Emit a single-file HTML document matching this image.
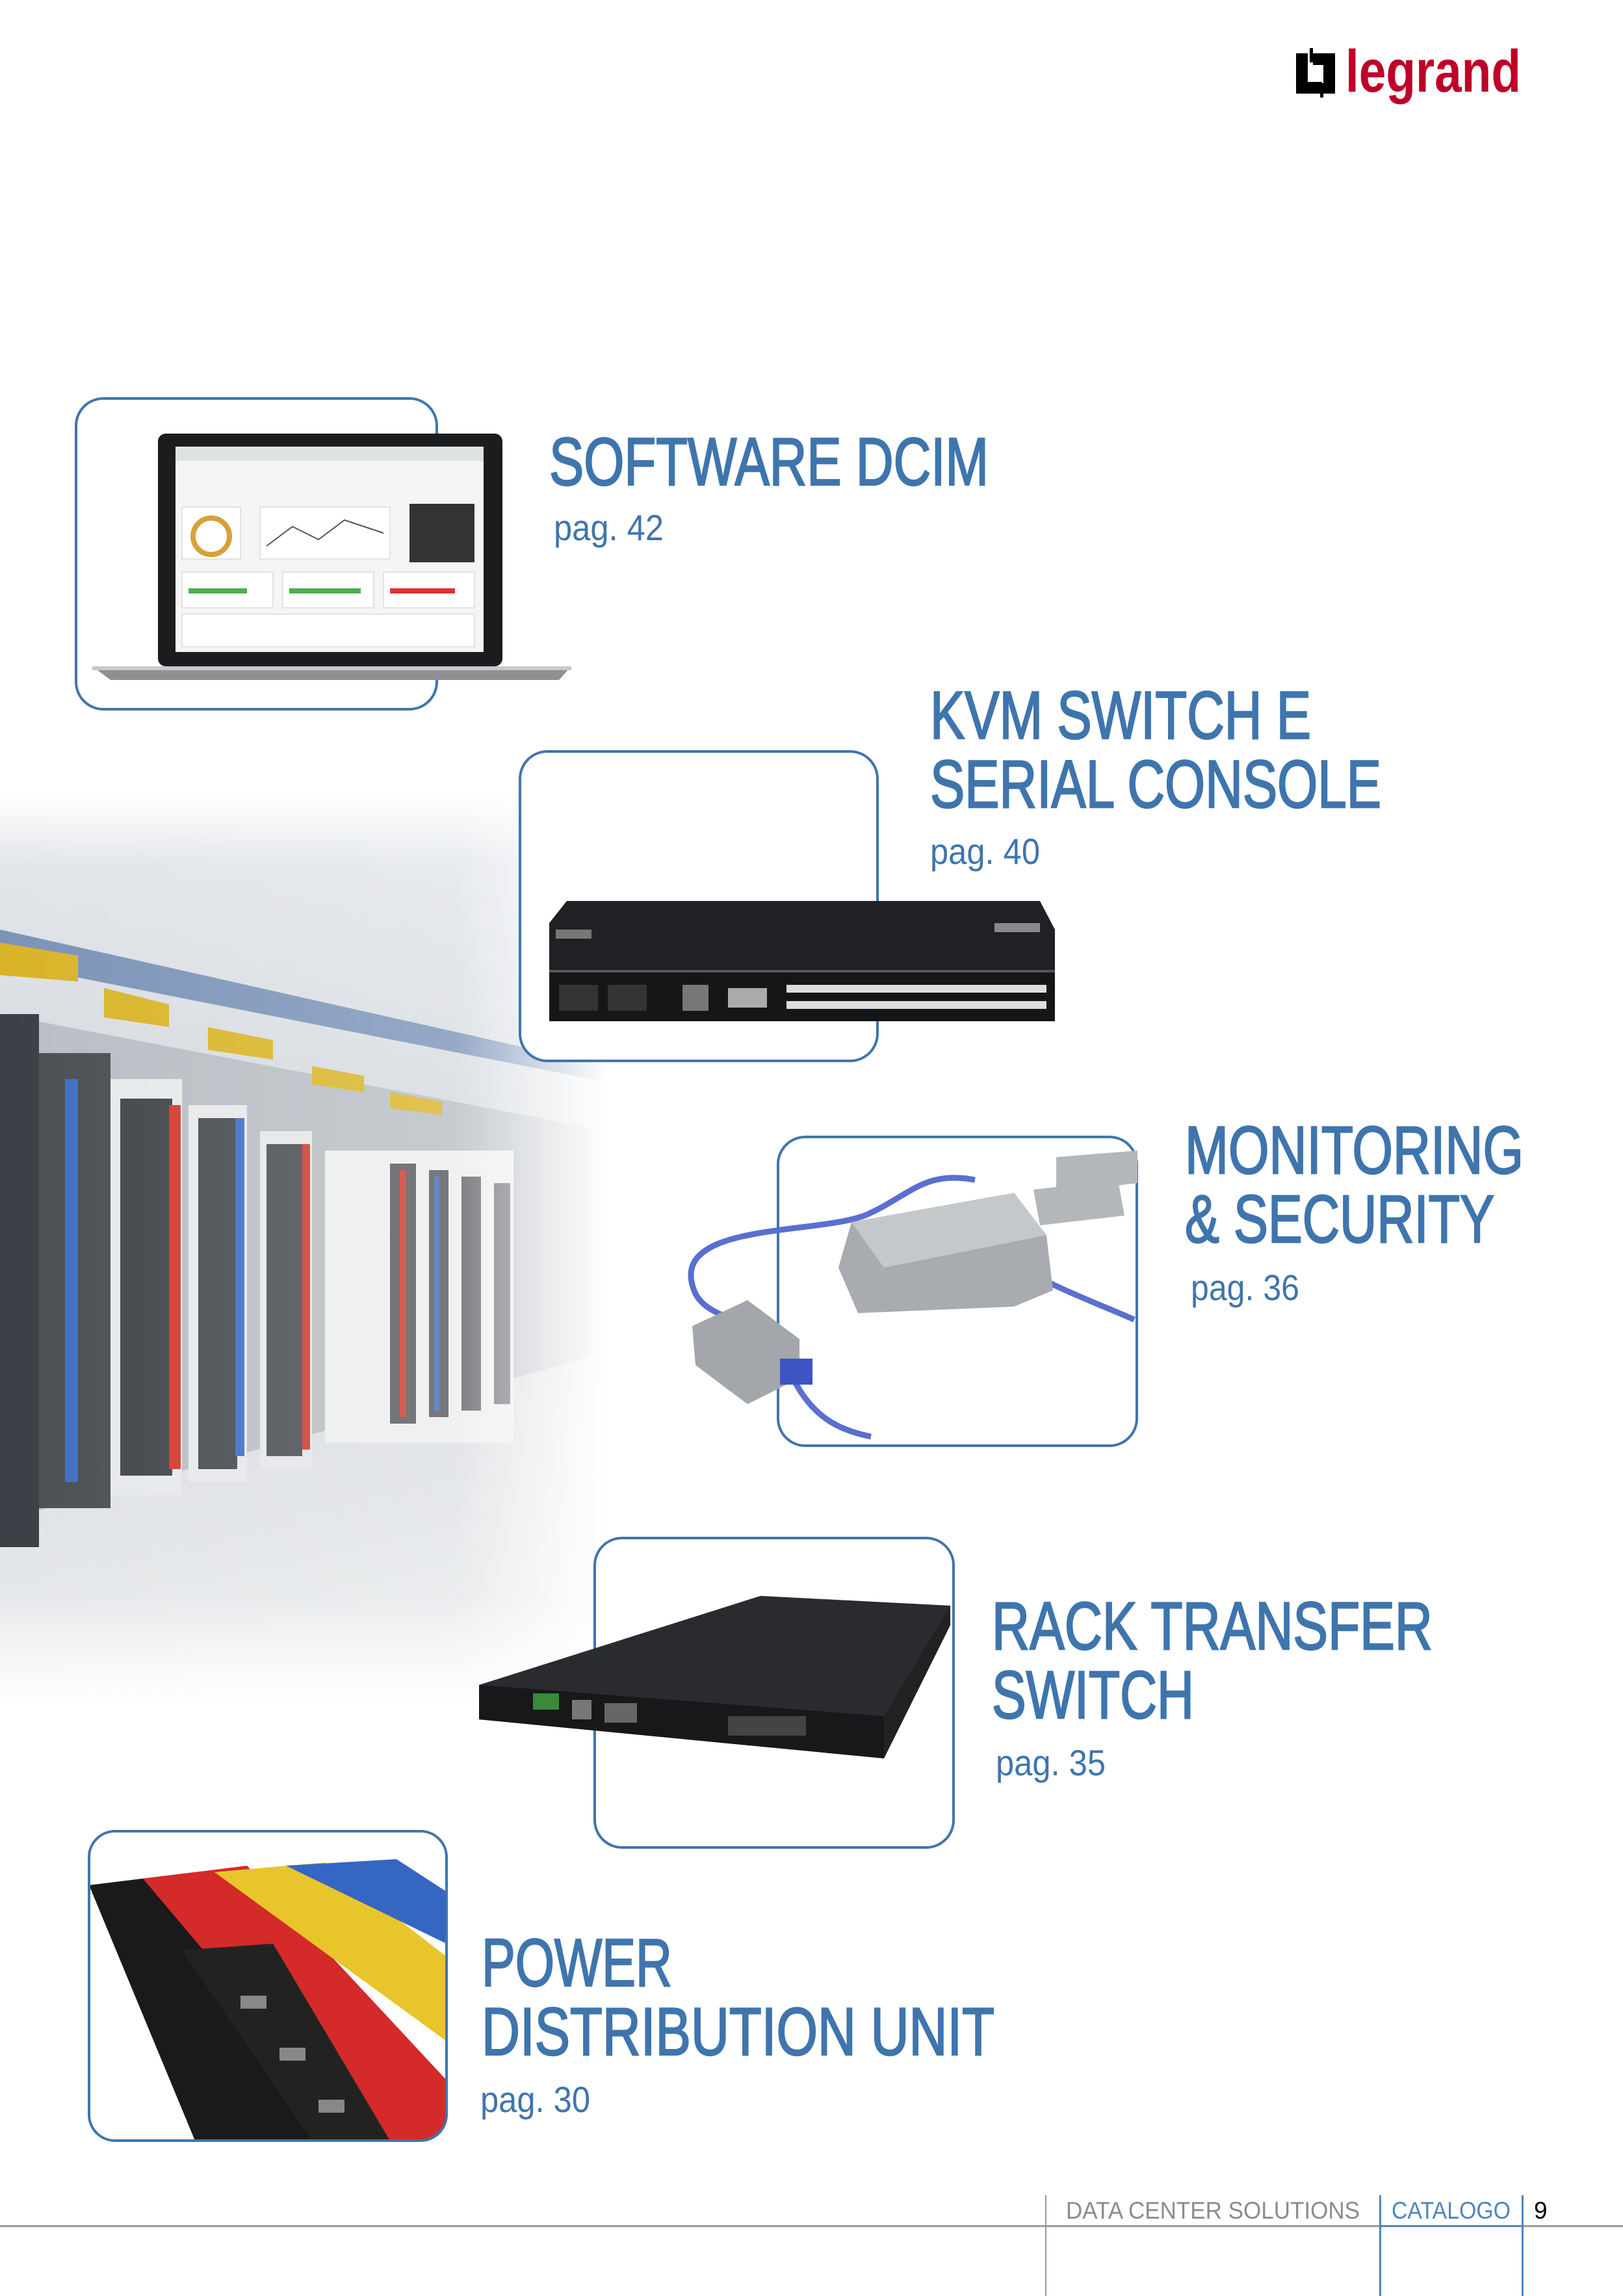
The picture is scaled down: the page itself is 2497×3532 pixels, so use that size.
<!DOCTYPE html>
<html><head><meta charset="utf-8"><style>
html,body{margin:0;padding:0;background:#fff}
svg{display:block}
</style></head><body>
<svg width="2497" height="3532" viewBox="0 0 2497 3532" xmlns="http://www.w3.org/2000/svg">
<defs>
<linearGradient id="dcfade" x1="0" y1="0" x2="1" y2="0">
<stop offset="0" stop-color="#fff" stop-opacity="0"/>
<stop offset="0.75" stop-color="#fff" stop-opacity="0.2"/>
<stop offset="1" stop-color="#fff" stop-opacity="1"/>
</linearGradient>
<linearGradient id="dcvert" x1="0" y1="0" x2="0" y2="1">
<stop offset="0" stop-color="#fff" stop-opacity="1"/>
<stop offset="0.08" stop-color="#fff" stop-opacity="0"/>
<stop offset="0.88" stop-color="#fff" stop-opacity="0"/>
<stop offset="1" stop-color="#fff" stop-opacity="1"/>
</linearGradient>
<linearGradient id="ceil" x1="0" y1="0" x2="0" y2="1">
<stop offset="0" stop-color="#e6e9ed"/><stop offset="1" stop-color="#d3d7dc"/>
</linearGradient>
<linearGradient id="floor" x1="0" y1="0" x2="0" y2="1">
<stop offset="0" stop-color="#d6d9dd"/><stop offset="1" stop-color="#eceef0"/>
</linearGradient>
<clipPath id="pduclip"><rect x="137" y="2817" width="550" height="476" rx="40"/></clipPath>
</defs>

<g>
<polygon points="0,1217 935,1217 935,1760 0,1580" fill="url(#ceil)"/>
<polygon points="0,2330 935,2060 935,2625 0,2625" fill="url(#floor)"/>
<polygon points="0,1560 935,1740 935,2080 0,2340" fill="#b9bec4"/>
<polygon points="0,1430 935,1640 935,1665 0,1480" fill="#7b93b8"/>
<g>
<rect x="0" y="1560" width="60" height="820" fill="#3b3e44"/>
<rect x="60" y="1620" width="110" height="700" fill="#4a4d52"/>
<rect x="100" y="1660" width="20" height="620" fill="#3d6fbf"/>
<rect x="170" y="1660" width="110" height="640" fill="#e7e8ea"/>
<rect x="185" y="1690" width="80" height="580" fill="#3f4247"/>
<rect x="260" y="1700" width="18" height="560" fill="#d0392e"/>
<rect x="290" y="1700" width="90" height="580" fill="#e7e8ea"/>
<rect x="305" y="1720" width="60" height="540" fill="#46494e"/>
<rect x="362" y="1720" width="14" height="520" fill="#3d6fbf"/>
<rect x="400" y="1740" width="80" height="520" fill="#e5e6e8"/>
<rect x="410" y="1760" width="55" height="480" fill="#4a4d52"/>
<rect x="465" y="1760" width="12" height="470" fill="#d0392e"/>
<rect x="500" y="1770" width="290" height="450" fill="#eceded"/>
<rect x="600" y="1790" width="40" height="400" fill="#55585d"/>
<rect x="615" y="1800" width="10" height="380" fill="#d0392e"/>
<rect x="660" y="1800" width="30" height="380" fill="#55585d"/>
<rect x="668" y="1810" width="8" height="360" fill="#3d6fbf"/>
<rect x="710" y="1810" width="30" height="360" fill="#5a5d62"/>
<rect x="760" y="1820" width="25" height="340" fill="#5e6166"/>
<polygon points="0,1450 120,1470 120,1510 0,1500" fill="#d9b427"/>
<polygon points="160,1520 260,1545 260,1580 160,1565" fill="#d9b427"/>
<polygon points="320,1580 420,1600 420,1630 320,1615" fill="#d9b427"/>
<polygon points="480,1640 560,1655 560,1680 480,1668" fill="#d9b427"/>
<polygon points="600,1680 680,1695 680,1715 600,1705" fill="#d9b427"/>
</g>
<rect x="0" y="1217" width="935" height="1408" fill="url(#dcfade)"/>
<rect x="0" y="1217" width="935" height="1408" fill="url(#dcvert)"/>
</g>

<rect x="117" y="613" width="555" height="478" rx="42" fill="#fff" stroke="#3f75ad" stroke-width="4"/>
<rect x="243" y="667" width="530" height="358" rx="12" fill="#1b1c1e"/>
<rect x="270" y="687" width="474" height="316" fill="#f4f5f4"/>
<rect x="270" y="687" width="474" height="22" fill="#dfe3df"/>
<rect x="280" y="780" width="90" height="80" fill="#fff" stroke="#ccc"/>
<circle cx="325" cy="825" r="28" fill="none" stroke="#d8a03a" stroke-width="8"/>
<rect x="400" y="780" width="200" height="80" fill="#fff" stroke="#ccc"/>
<polyline points="410,840 450,810 490,830 530,800 590,820" fill="none" stroke="#555" stroke-width="2"/>
<rect x="630" y="775" width="100" height="90" fill="#333"/>
<rect x="280" y="880" width="140" height="55" fill="#fff" stroke="#ccc"/>
<rect x="290" y="905" width="90" height="8" fill="#4caf50"/>
<rect x="435" y="880" width="140" height="55" fill="#fff" stroke="#ccc"/>
<rect x="445" y="905" width="110" height="8" fill="#4caf50"/>
<rect x="590" y="880" width="140" height="55" fill="#fff" stroke="#ccc"/>
<rect x="600" y="905" width="100" height="8" fill="#d33"/>
<rect x="280" y="945" width="450" height="50" fill="#fff" stroke="#ccc"/>
<polygon points="142,1025 879,1025 860,1046 170,1046" fill="#8e9094"/>
<rect x="142" y="1025" width="737" height="6" fill="#c8c9cc"/>

<rect x="800" y="1156" width="550" height="476" rx="42" fill="#fff" stroke="#3f75ad" stroke-width="4"/>
<polygon points="872,1386 1600,1386 1623,1430 1623,1494 845,1494 845,1420" fill="#202124"/>
<rect x="845" y="1494" width="778" height="77" fill="#151617"/>
<rect x="845" y="1492" width="778" height="4" fill="#555"/>
<g fill="#ddd">
<rect x="1210" y="1515" width="400" height="12"/>
<rect x="1210" y="1540" width="400" height="12"/>
<rect x="860" y="1515" width="60" height="40" fill="#333"/>
<rect x="935" y="1515" width="60" height="40" fill="#333"/>
<rect x="1050" y="1515" width="40" height="40" fill="#777"/>
<rect x="1120" y="1520" width="60" height="30" fill="#aaa"/>
</g>
<rect x="1530" y="1420" width="70" height="14" fill="#888"/>
<rect x="855" y="1430" width="55" height="14" fill="#777"/>

<rect x="1197" y="1749" width="552" height="475" rx="42" fill="#fff" stroke="#3f75ad" stroke-width="4"/>
<path d="M1500,1815 C1420,1800 1400,1840 1330,1870 C1250,1900 1020,1880 1070,1990 C1085,2020 1130,2030 1165,2040" fill="none" stroke="#5a6fd0" stroke-width="9"/>
<path d="M1220,2120 C1250,2180 1290,2200 1340,2210" fill="none" stroke="#5a6fd0" stroke-width="9"/>
<path d="M1560,1945 C1620,1980 1700,2010 1745,2030" fill="none" stroke="#5a6fd0" stroke-width="9"/>
<polygon points="1290,1950 1310,1880 1560,1835 1610,1900 1620,1985 1560,2010 1320,2020" fill="#a8abaf"/>
<polygon points="1310,1880 1560,1835 1610,1900 1360,1950" fill="#c5c8cb"/>
<polygon points="1625,1780 1750,1770 1750,1820 1625,1835" fill="#b4b7ba"/>
<polygon points="1590,1830 1720,1815 1730,1870 1600,1885" fill="#b4b7ba"/>
<polygon points="1065,2040 1150,2000 1230,2060 1230,2120 1150,2160 1070,2100" fill="#a3a6aa"/>
<rect x="1200" y="2090" width="50" height="40" fill="#3c55c4"/>

<rect x="915" y="2366" width="552" height="476" rx="42" fill="#fff" stroke="#3f75ad" stroke-width="4"/>
<polygon points="737,2592 1170,2455 1462,2470 1462,2500 1360,2705 737,2645" fill="#2a2b2e"/>
<polygon points="737,2592 1360,2640 1360,2705 737,2645" fill="#17181a"/>
<polygon points="1360,2640 1462,2470 1462,2500 1360,2705" fill="#222"/>
<rect x="820" y="2605" width="40" height="25" fill="#3a8a3a"/>
<rect x="880" y="2615" width="30" height="30" fill="#777"/>
<rect x="930" y="2620" width="50" height="30" fill="#666"/>
<rect x="1120" y="2640" width="120" height="30" fill="#444"/>

<g clip-path="url(#pduclip)">
<rect x="137" y="2817" width="550" height="476" fill="#fff"/>
<polygon points="137,2900 300,2880 560,3293 300,3293" fill="#1a1a1a"/>
<polygon points="220,2890 380,2870 687,3200 687,3293 560,3293" fill="#d42a2a"/>
<polygon points="330,2880 500,2865 687,3010 687,3140" fill="#e8c52a"/>
<polygon points="440,2870 610,2860 687,2910 687,2990" fill="#3566c4"/>
<polygon points="280,3000 420,2990 600,3293 480,3293" fill="#222"/>
<g fill="#888"><rect x="370" y="3070" width="40" height="20"/><rect x="430" y="3150" width="40" height="20"/><rect x="490" y="3230" width="40" height="20"/></g>
</g>
<rect x="137" y="2817" width="550" height="476" rx="40" fill="none" stroke="#3f75ad" stroke-width="4"/>

<g>
<rect x="1994" y="82" width="18" height="62" fill="#000"/>
<rect x="1994" y="126" width="40" height="18" fill="#000"/>
<rect x="2020" y="82" width="34" height="18" fill="#000"/>
<rect x="2036" y="82" width="18" height="62" fill="#000"/>
<rect x="2015" y="74" width="5" height="22" fill="#000"/>
<rect x="2031" y="128" width="5" height="22" fill="#000"/>
<text x="2070" y="141" font-family="Liberation Sans, sans-serif" font-weight="bold" font-size="92" fill="#bf0029" textLength="270" lengthAdjust="spacingAndGlyphs">legrand</text>
</g>

<g font-family="Liberation Sans, sans-serif" fill="#3f75ad" stroke="#3f75ad" stroke-width="2.5">
<text x="845" y="746" font-size="104" textLength="676" lengthAdjust="spacingAndGlyphs">SOFTWARE DCIM</text>
<text x="1431" y="1136" font-size="104" textLength="586" lengthAdjust="spacingAndGlyphs">KVM SWITCH E</text>
<text x="1431" y="1242" font-size="104" textLength="694" lengthAdjust="spacingAndGlyphs">SERIAL CONSOLE</text>
<text x="1823" y="1805" font-size="104" textLength="521" lengthAdjust="spacingAndGlyphs">MONITORING</text>
<text x="1823" y="1911" font-size="104" textLength="476" lengthAdjust="spacingAndGlyphs">&amp; SECURITY</text>
<text x="1526" y="2537" font-size="104" textLength="678" lengthAdjust="spacingAndGlyphs">RACK TRANSFER</text>
<text x="1526" y="2643" font-size="104" textLength="311" lengthAdjust="spacingAndGlyphs">SWITCH</text>
<text x="741" y="3055" font-size="104" textLength="293" lengthAdjust="spacingAndGlyphs">POWER</text>
<text x="741" y="3161" font-size="104" textLength="789" lengthAdjust="spacingAndGlyphs">DISTRIBUTION UNIT</text>
</g>
<g font-family="Liberation Sans, sans-serif" fill="#3f75ad">
<text x="852" y="831" font-size="56" textLength="169" lengthAdjust="spacingAndGlyphs">pag. 42</text>
<text x="1431" y="1329" font-size="56" textLength="169" lengthAdjust="spacingAndGlyphs">pag. 40</text>
<text x="1832" y="2000" font-size="56" textLength="167" lengthAdjust="spacingAndGlyphs">pag. 36</text>
<text x="1532" y="2731" font-size="56" textLength="169" lengthAdjust="spacingAndGlyphs">pag. 35</text>
<text x="739" y="3249" font-size="56" textLength="169" lengthAdjust="spacingAndGlyphs">pag. 30</text>
</g>

<rect x="0" y="3423" width="2497" height="3" fill="#9a9a9a"/>
<rect x="1608" y="3377" width="2" height="155" fill="#9a9a9a"/>
<rect x="2122" y="3377" width="3" height="155" fill="#4f86bb"/>
<rect x="2341" y="3377" width="3" height="155" fill="#4f86bb"/>
<rect x="2122" y="3423" width="222" height="3" fill="#4f86bb"/>
<g font-family="Liberation Sans, sans-serif" font-size="37">
<text x="1640" y="3413" fill="#8c8c8c" textLength="452" lengthAdjust="spacingAndGlyphs">DATA CENTER SOLUTIONS</text>
<text x="2141" y="3413" fill="#4f86bb" textLength="183" lengthAdjust="spacingAndGlyphs">CATALOGO</text>
<text x="2360" y="3413" fill="#000">9</text>
</g>
</svg>
</body></html>
